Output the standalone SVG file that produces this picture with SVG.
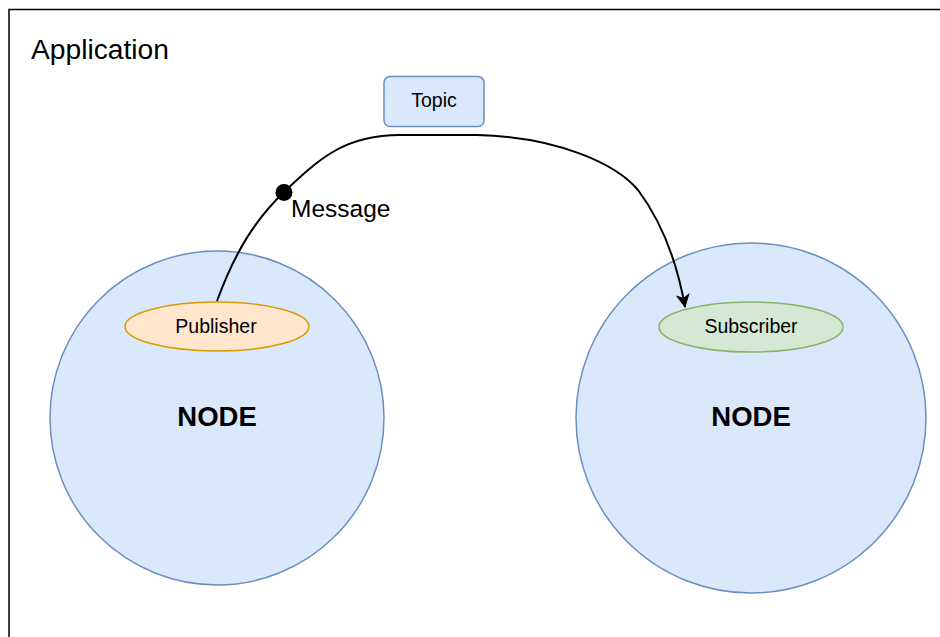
<svg xmlns="http://www.w3.org/2000/svg" width="940" height="637" viewBox="0 0 940 637">
<defs>
<style>
.node{fill:#dae8fc;stroke:#6c8ebf;stroke-width:1.5}
.lbl{font-family:"Liberation Sans",Arial,sans-serif;fill:#000;text-anchor:middle}
.big{font-size:27.5px;font-weight:bold}
.small{font-size:19.5px}
.edge{fill:none;stroke:#000;stroke-width:2}
</style>
<marker id="arrow" viewBox="0 0 14 14" refX="13" refY="7" markerWidth="14" markerHeight="14" markerUnits="userSpaceOnUse" orient="auto">
<path d="M0,0 L14,7 L0,14 L3.5,7 Z" fill="#000"/>
</marker>
</defs>
<rect width="940" height="637" fill="#fff"/>
<g id="application">
<rect x="9" y="9.5" width="1000" height="700" fill="none" stroke="#000" stroke-width="1.5"/>
<text x="31" y="59" style="font-family:'Liberation Sans',Arial,sans-serif;font-size:28.2px">Application</text>
</g>
<g id="node-left">
<circle class="node" cx="217" cy="418" r="167"/>
<text class="lbl big" x="217" y="426">NODE</text>
</g>
<g id="node-right">
<circle class="node" cx="751" cy="418" r="175"/>
<text class="lbl big" x="751" y="426">NODE</text>
</g>
<g id="publisher">
<ellipse cx="217" cy="326.5" rx="92" ry="24.5" fill="#ffe6cc" stroke="#d79b00" stroke-width="1.5"/>
<text class="lbl small" x="216" y="333">Publisher</text>
</g>
<g id="subscriber">
<ellipse cx="751" cy="327" rx="92" ry="25" fill="#d5e8d4" stroke="#82b366" stroke-width="1.5"/>
<text class="lbl small" x="751" y="333">Subscriber</text>
</g>
<g id="topic">
<rect x="384" y="76.5" width="100" height="50" rx="6" fill="#dae8fc" stroke="#6c8ebf" stroke-width="1.5"/>
<text class="lbl small" x="434" y="106.5">Topic</text>
</g>
<g id="connectors">
<path class="edge" d="M217,301 C235,252 255,220 284,192 C320,158 345,135 400,135 L477,135 C560,137 617,165 638,190 C662,222 677,262 685,307" marker-end="url(#arrow)"/>
<circle cx="284" cy="192.5" r="8.5" fill="#000"/>
<text x="291" y="217" style="font-family:'Liberation Sans',Arial,sans-serif;font-size:24.5px">Message</text>
</g>
</svg>
